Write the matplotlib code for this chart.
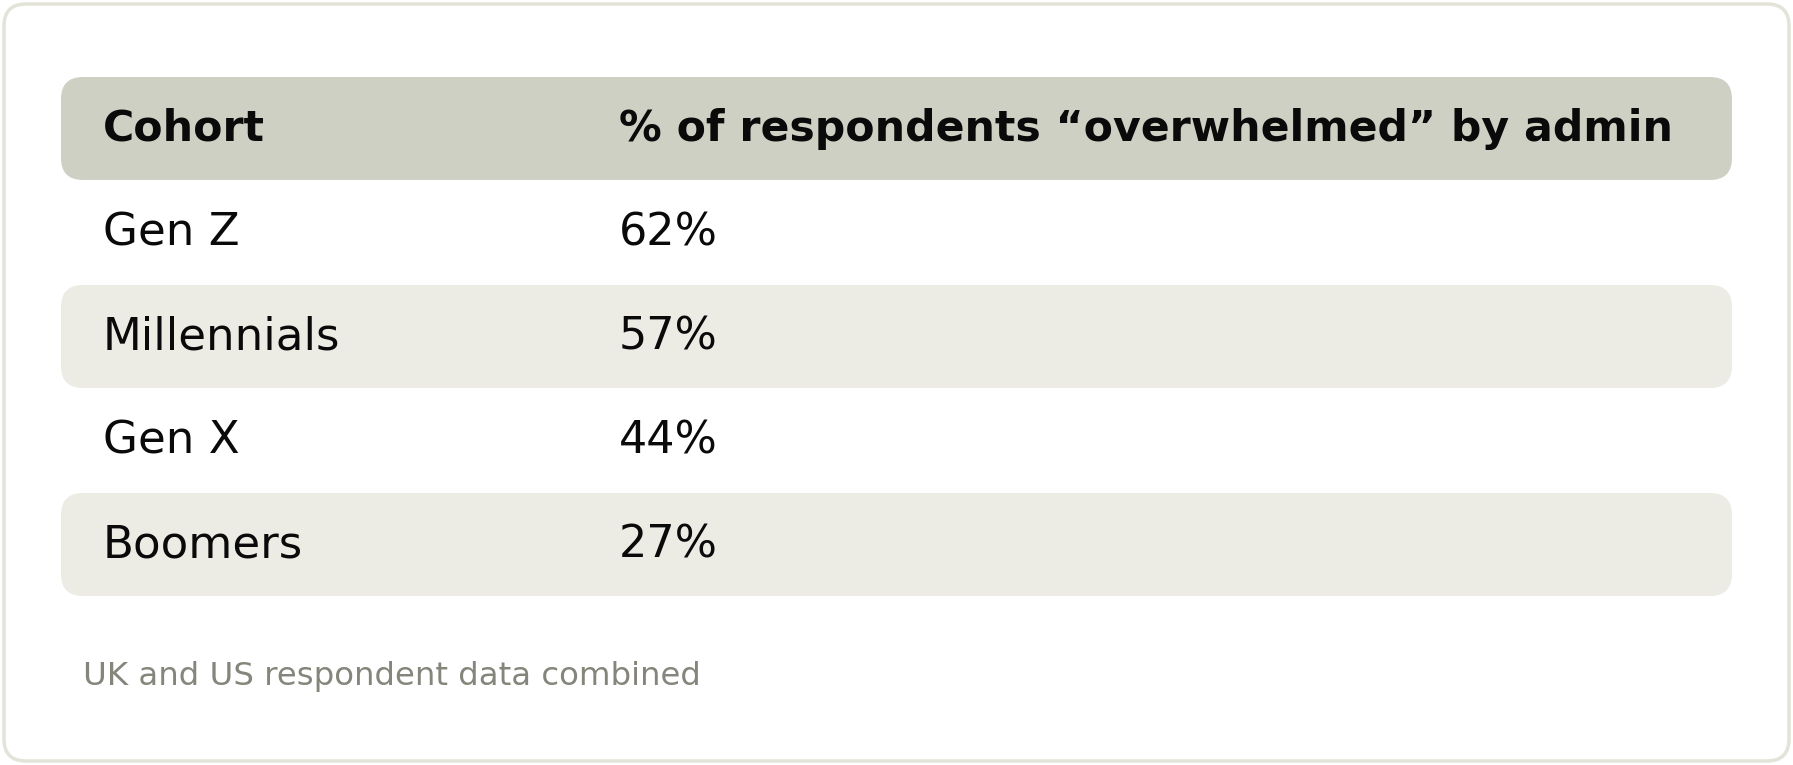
import matplotlib.pyplot as plt
from matplotlib.patches import FancyBboxPatch

# table content
header = ["Cohort", "% of respondents \u201coverwhelmed\u201d by admin"]
cohorts = ["Gen Z", "Millennials", "Gen X", "Boomers"]
shares = [62, 57, 44, 27]
footnote = "UK and US respondent data combined"

W, H = 1793, 765
fig = plt.figure(figsize=(W / 100, H / 100), dpi=100)
ax = fig.add_axes([0, 0, 1, 1])
ax.set_xlim(0, W)
ax.set_ylim(H, 0)
ax.axis("off")

plt.rcParams['font.family'] = ['DejaVu Sans']

# outer card
card = FancyBboxPatch((4, 4), W - 8, H - 8, boxstyle="round,pad=0,rounding_size=22",
                      facecolor="white", edgecolor="#e3e3da", linewidth=2.5)
ax.add_patch(card)

row0 = 128.5
step = 104
band_h = 103
x0, x1 = 61, 1732
col1, col2 = 103, 619

def band(yc, color):
    p = FancyBboxPatch((x0, yc - band_h / 2), x1 - x0, band_h,
                       boxstyle="round,pad=0,rounding_size=22",
                       facecolor=color, edgecolor="none")
    ax.add_patch(p)

band(row0, "#cfd0c4")
ax.text(col1, row0, header[0], fontsize=30.7, fontweight="bold", va="center", color="#0a0a0a")
ax.text(col2, row0, header[1], fontsize=30.7, fontweight="bold", va="center", color="#0a0a0a")

for i, (c, v) in enumerate(zip(cohorts, shares)):
    yc = row0 + step * (i + 1)
    if i % 2 == 1:
        band(yc, "#ecebe4")
    ax.text(col1, yc, c, fontsize=32.5, va="center", color="#0a0a0a")
    ax.text(col2, yc, f"{v}%", fontsize=32, va="center", color="#0a0a0a")

ax.text(83, 677, footnote, fontsize=23.3, va="center", color="#85857b")

fig.savefig("out.png", dpi=100)
